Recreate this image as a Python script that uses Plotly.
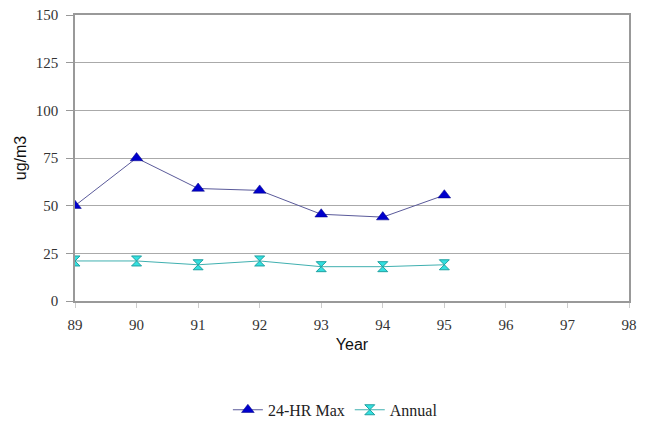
import plotly.graph_objects as go

years = [89, 90, 91, 92, 93, 94, 95]
max24 = [50, 75, 59, 58, 45.5, 44, 55.5]
annual = [21, 21, 19, 21, 18, 18, 19]
xticks = [89, 90, 91, 92, 93, 94, 95, 96, 97, 98]
yticks = [0, 25, 50, 75, 100, 125, 150]

fig = go.Figure()
fig.add_trace(go.Scatter(
    x=years, y=max24, name="24-HR Max", mode="lines+markers",
    line=dict(color="#5a5a9a", width=1),
    marker=dict(symbol="triangle-up", size=11, color="#0000cc",
                line=dict(color="#000080", width=0.5)),
))
fig.add_trace(go.Scatter(
    x=years, y=annual, name="Annual", mode="lines+markers",
    line=dict(color="#40b0b0", width=1),
    marker=dict(symbol="hourglass", size=10, color="#33e0e0",
                line=dict(color="#20a0a0", width=1)),
))

fig.update_layout(
    width=644, height=416,
    margin=dict(l=67, r=23, t=7, b=123, autoexpand=False),
    paper_bgcolor="white", plot_bgcolor="white",
    showlegend=True,
    legend=dict(orientation="h", x=0.47, xanchor="center",
                yref="container", y=0.034, yanchor="middle",
                font=dict(family="Liberation Serif", size=16, color="#222")),
    xaxis=dict(
        range=[89, 98], tickmode="array", tickvals=xticks,
        ticktext=[str(v) for v in xticks], automargin=False,
        showgrid=False, showline=True, linecolor="#999", linewidth=1.5, mirror=True,
        ticks="outside", ticklen=5, tickcolor="#ccc", zeroline=False,
        ticklabelstandoff=4, ticklabeloverflow="allow",
        tickfont=dict(family="Liberation Serif", size=15, color="#333"),
        title=dict(text="Year", standoff=7,
                   font=dict(family="Liberation Sans", size=16, color="#111")),
    ),
    yaxis=dict(
        range=[0, 150], tickmode="array", tickvals=yticks, automargin=False,
        showgrid=True, gridcolor="#aaa", gridwidth=1,
        showline=True, linecolor="#999", linewidth=1.5, mirror=True,
        ticks="outside", ticklen=7, tickcolor="#999", zeroline=False,
        ticklabelstandoff=5, ticklabeloverflow="allow",
        tickfont=dict(family="Liberation Serif", size=15, color="#333"),
        title=dict(text="ug/m3", standoff=5,
                   font=dict(family="Liberation Sans", size=16, color="#111")),
    ),
)

fig.write_html("out.html")
